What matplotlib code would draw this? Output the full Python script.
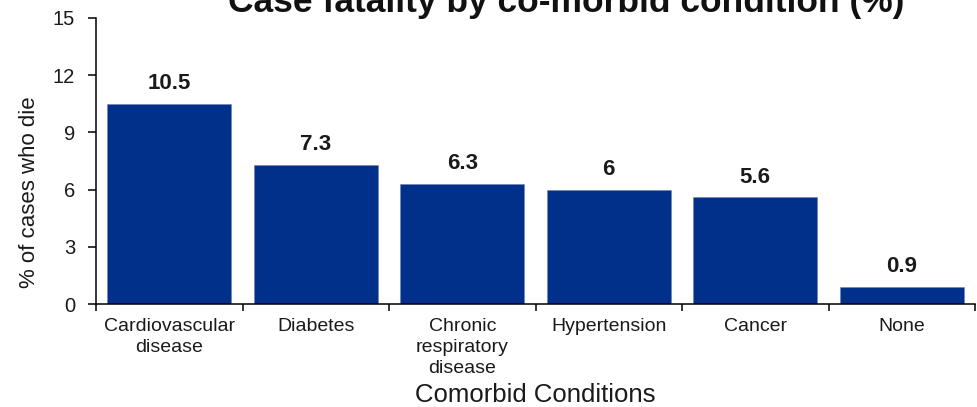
import matplotlib
matplotlib.use("Agg")
import numpy as np
from matplotlib import pyplot as plt

# Données
conditions = ["Cardiovascular\ndisease", "Diabetes", "Chronic\nrespiratory\ndisease",
              "Hypertension", "Cancer", "None"]
fatality = [10.5, 7.3, 6.3, 6.0, 5.6, 0.9]
value_labels = ["10.5", "7.3", "6.3", "6", "5.6", "0.9"]
y_ticks = [0, 3, 6, 9, 12, 15]

BAR_COLOR = "#00308A"
TEXT_COLOR = "#1a1a1a"

plt.rcParams["font.family"] = ["Liberation Sans", "DejaVu Sans"]

fig = plt.figure(figsize=(9.77, 4.07), dpi=100)
ax = fig.add_axes([96 / 977, 1 - 304 / 407, 879 / 977, 286 / 407])

x = np.arange(len(conditions))
bars = ax.bar(x, fatality, width=0.846, color=BAR_COLOR, edgecolor="#6f7fb0", linewidth=0.4)

for rect, lab in zip(bars, value_labels):
    ax.annotate(lab, (rect.get_x() + rect.get_width() / 2, rect.get_height()),
                xytext=(0, 7), textcoords="offset points", ha="center", va="bottom",
                fontsize=16, fontweight="bold", color=TEXT_COLOR)

ax.set_xlim(-0.5, len(conditions) - 0.5)
ax.set_ylim(0, 15)
ax.set_yticks(y_ticks)
ax.set_xticks(x)
ax.set_xticklabels(conditions, fontsize=14, color=TEXT_COLOR, linespacing=1.3)
ax.set_xticks(np.arange(-0.5, len(conditions)), minor=True)
ax.tick_params(axis="x", which="major", length=0, pad=10)
ax.tick_params(axis="x", which="minor", length=5, width=1.1, direction="out")
ax.tick_params(axis="y", length=6, width=1.1, pad=9, labelsize=14.5, labelcolor=TEXT_COLOR)

for side in ["top", "right"]:
    ax.spines[side].set_visible(False)
for side in ["left", "bottom"]:
    ax.spines[side].set_linewidth(1.1)

ax.set_xlabel("Comorbid Conditions", fontsize=18.5, color=TEXT_COLOR)
ax.xaxis.set_label_coords(0.5, -0.318)
ax.xaxis.label.set_verticalalignment("center")
ax.set_ylabel("% of cases who die", fontsize=16, color=TEXT_COLOR)
ax.yaxis.set_label_coords(-0.076, 0.39)
ax.yaxis.label.set_verticalalignment("center")

fig.text(566 / 977, 1 - 12 / 407, "Case fatality by co-morbid condition (%)",
         ha="center", va="baseline", fontsize=25.5, fontweight="bold", color="#111111")

fig.savefig("out.png", dpi=100)
